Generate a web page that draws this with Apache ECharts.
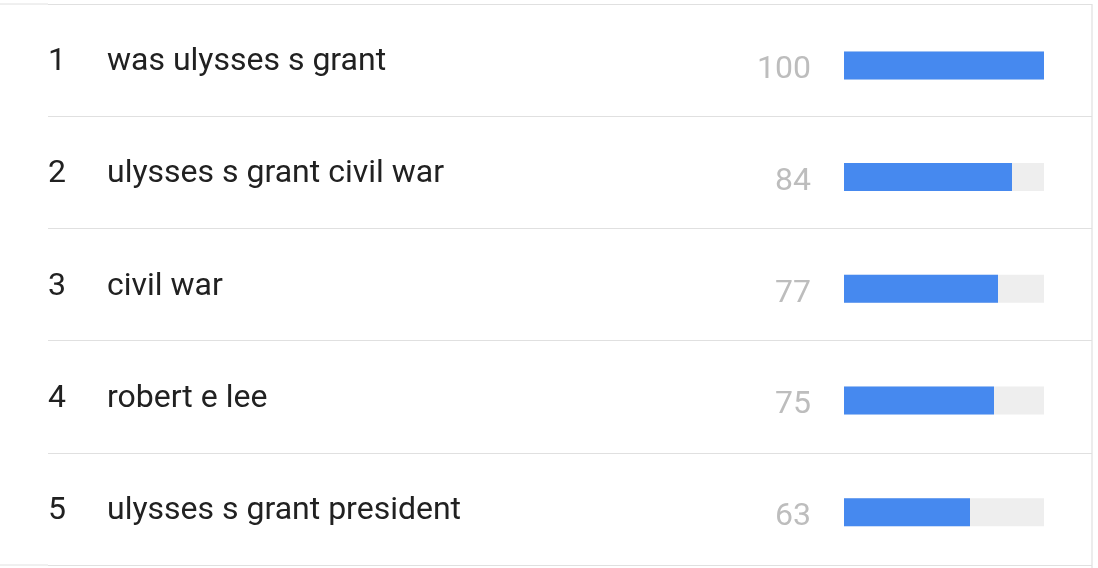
<!DOCTYPE html>
<html>
<head>
<meta charset="utf-8">
<script src="https://cdn.jsdelivr.net/npm/echarts@6/dist/echarts.min.js"></script>
<style>html,body{margin:0;padding:0;background:#fff}#c{width:1098px;height:568px}</style>
</head>
<body>
<div id="c"></div>
<script>
var ranks = ['1', '2', '3', '4', '5'];
var terms = ['was ulysses s grant', 'ulysses s grant civil war', 'civil war', 'robert e lee', 'ulysses s grant president'];
var values = [100, 84, 77, 75, 63];

var FONT = 'Roboto';
var chart = echarts.init(document.getElementById('c'), null, {renderer: 'canvas'});
var cats = ranks.map(function (r, i) { return r + '|' + terms[i]; });

chart.setOption({
  animation: false,
  backgroundColor: '#ffffff',
  grid: [
    {left: 48, right: 6, top: 4, height: 561},
    {left: 844, width: 200, top: 9.6, height: 560.5}
  ],
  xAxis: [
    {gridIndex: 0, type: 'value', show: false, min: 0, max: 100},
    {gridIndex: 1, type: 'value', show: false, min: 0, max: 100}
  ],
  yAxis: [
    {
      gridIndex: 0, type: 'category', inverse: true, data: cats,
      axisLine: {show: false}, axisTick: {show: false},
      splitLine: {show: true, lineStyle: {color: '#e0e0e0', width: 1}},
      axisLabel: {
        align: 'left', margin: 0,
        formatter: function (v) {
          var p = v.split('|');
          return '{r|' + p[0] + '}{t|' + p[1] + '}';
        },
        rich: {
          r: {fontFamily: FONT, fontSize: 32, color: '#212121', width: 59, padding: [4, 0, 0, 0]},
          t: {fontFamily: FONT, fontSize: 32, color: '#212121', padding: [4, 0, 0, 0]}
        }
      }
    },
    {
      gridIndex: 1, type: 'category', inverse: true, data: ranks, show: false
    }
  ],
  series: [
    {
      type: 'bar', xAxisIndex: 1, yAxisIndex: 1, data: values,
      barWidth: 28,
      itemStyle: {color: '#4689ef'},
      showBackground: true,
      backgroundStyle: {color: '#eeeeee'},
      label: {
        show: true, position: 'left', distance: 33, offset: [0, 5],
        fontFamily: FONT, fontSize: 32, color: '#bdbdbd'
      },
      silent: true
    }
  ],
  graphic: [
    {type: 'line', shape: {x1: 0, y1: 4, x2: 48, y2: 4}, style: {stroke: '#e0e0e0', lineWidth: 1}, silent: true},
    {type: 'line', shape: {x1: 0, y1: 565, x2: 48, y2: 565}, style: {stroke: '#e0e0e0', lineWidth: 1}, silent: true},
    {type: 'line', shape: {x1: 1092, y1: 4, x2: 1092, y2: 568}, style: {stroke: '#e6e6e6', lineWidth: 1.5}, silent: true}
  ]
});
</script>
</body>
</html>
